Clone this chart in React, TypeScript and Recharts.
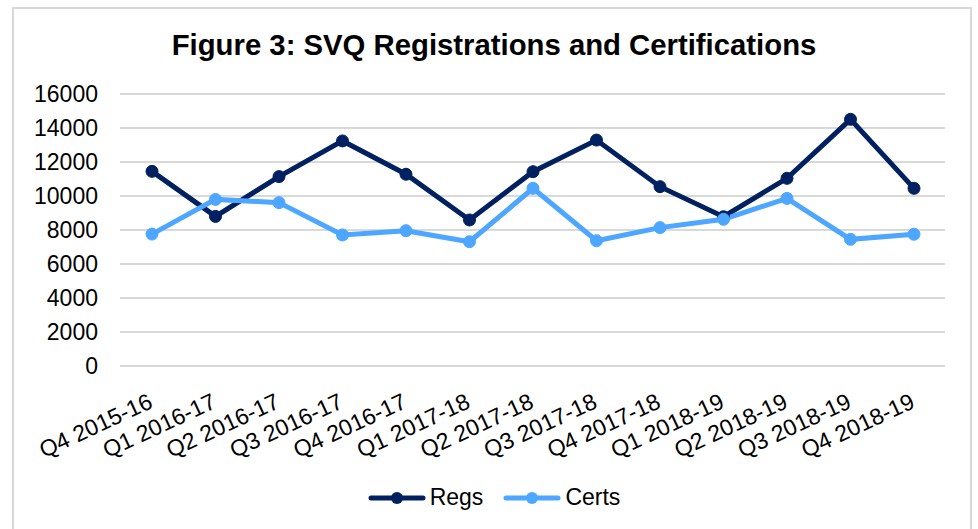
import React from 'react'
import { LineChart, Line, XAxis, YAxis, CartesianGrid } from 'recharts'

const quarters = [
  'Q4 2015-16', 'Q1 2016-17', 'Q2 2016-17', 'Q3 2016-17', 'Q4 2016-17',
  'Q1 2017-18', 'Q2 2017-18', 'Q3 2017-18', 'Q4 2017-18', 'Q1 2018-19',
  'Q2 2018-19', 'Q3 2018-19', 'Q4 2018-19'
]
const regs = [11450, 8800, 11140, 13240, 11280, 8590, 11430, 13290, 10550, 8780, 11040, 14510, 10450]
const certs = [7760, 9800, 9610, 7710, 7960, 7310, 10450, 7370, 8140, 8630, 9860, 7450, 7750]
const yTicks = [0, 2000, 4000, 6000, 8000, 10000, 12000, 14000, 16000]

const data = quarters.map((q, i) => ({ quarter: q, Regs: regs[i], Certs: certs[i] }))

const REGS_COLOR = '#002060'
const CERTS_COLOR = '#4da6ff'
const FONT = '"Liberation Sans", Arial, sans-serif'

const QuarterTick = ({ x, y, payload }: any) => (
  <text
    x={x + 2}
    y={y + 33}
    textAnchor="end"
    fontFamily={FONT}
    fontSize={23}
    fill="#000"
    transform={`rotate(-25, ${x + 2}, ${y + 33})`}
  >
    {payload.value}
  </text>
)

const LegendBox = () => {
  const items = [
    { name: 'Regs', color: REGS_COLOR },
    { name: 'Certs', color: CERTS_COLOR }
  ]
  return (
    <div style={{
      position: 'absolute', left: 0, top: 484, width: 1008,
      display: 'flex', justifyContent: 'center', alignItems: 'center',
      fontFamily: FONT, fontSize: 23, color: '#000'
    }}>
      {items.map((it) => (
        <div key={it.name} style={{ display: 'flex', alignItems: 'center', marginRight: 20 }}>
          <svg width={58} height={16} style={{ marginRight: 4 }}>
            <line x1={3} y1={8} x2={55} y2={8} stroke={it.color} strokeWidth={5} strokeLinecap="round" />
            <circle cx={29} cy={8} r={6} fill={it.color} />
          </svg>
          <span>{it.name}</span>
        </div>
      ))}
    </div>
  )
}

export default function App() {
  return (
    <div style={{ position: 'absolute', left: 0, top: 0, width: 978, height: 529, background: '#fff', overflow: 'hidden' }}>
      <div style={{
        position: 'absolute', left: 12, top: 7, width: 960, height: 540,
        border: '2px solid #d9d9d9', boxSizing: 'border-box'
      }} />
      <div style={{
        position: 'absolute', left: 0, top: 28, width: 988, textAlign: 'center',
        fontFamily: FONT, fontWeight: 'bold', fontSize: 29.3, color: '#000'
      }}>
        Figure 3: SVQ Registrations and Certifications
      </div>
      <LineChart
        width={978}
        height={529}
        data={data}
        margin={{ top: 94, right: 33, left: 12, bottom: 73 }}
        style={{ position: 'absolute', left: 0, top: 0 }}
      >
        <CartesianGrid vertical={false} stroke="#d9d9d9" strokeWidth={2} />
        <XAxis
          dataKey="quarter"
          axisLine={false}
          tickLine={false}
          interval={0}
          height={90}
          padding={{ left: 32, right: 31 }}
          tick={<QuarterTick />}
        />
        <YAxis
          width={108}
          domain={[0, 16000]}
          ticks={yTicks}
          interval={0}
          axisLine={false}
          tickLine={false}
          tickSize={0}
          tickMargin={22}
          tick={{ fill: '#000', fontFamily: FONT, fontSize: 23 }}
        />
        <Line
          type="linear"
          dataKey="Regs"
          stroke={REGS_COLOR}
          strokeWidth={5}
          dot={{ r: 6, fill: REGS_COLOR, stroke: REGS_COLOR, strokeWidth: 1 }}
          isAnimationActive={false}
        />
        <Line
          type="linear"
          dataKey="Certs"
          stroke={CERTS_COLOR}
          strokeWidth={5}
          dot={{ r: 6, fill: CERTS_COLOR, stroke: CERTS_COLOR, strokeWidth: 1 }}
          isAnimationActive={false}
        />
      </LineChart>
      <LegendBox />
    </div>
  )
}
